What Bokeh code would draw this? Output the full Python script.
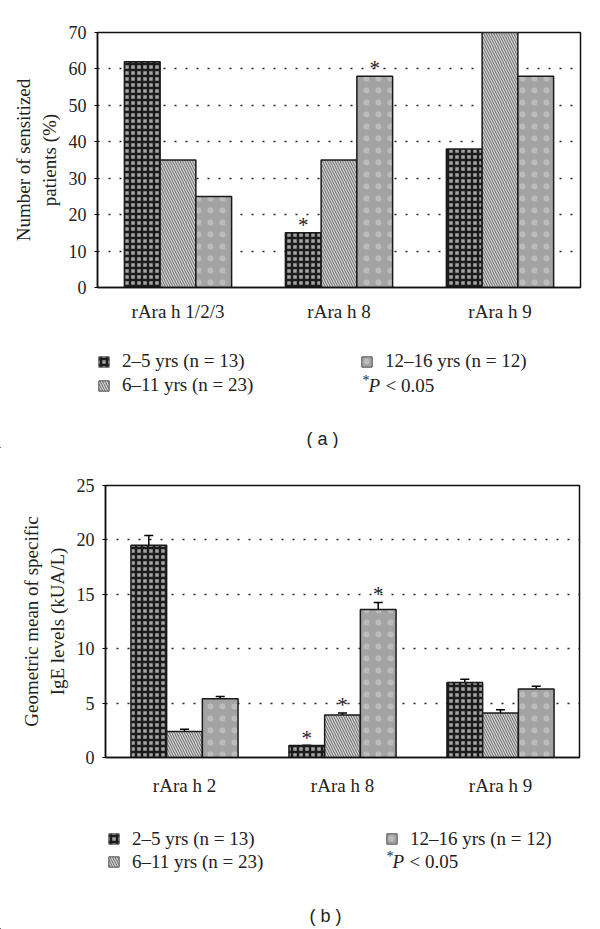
from bokeh.plotting import figure
from bokeh.models import (FactorRange, ColumnDataSource, Legend, LegendItem, Label,
                          Whisker, TeeHead, FixedTicker)
from bokeh.transform import dodge
from bokeh.layouts import column, row
from bokeh.embed import file_html
from bokeh.resources import INLINE
from bokeh.core.properties import value

# ---------------- data ----------------
groups = ["2–5 yrs (n = 13)", "6–11 yrs (n = 23)", "12–16 yrs (n = 12)"]

cats_a = ["rAra h 1/2/3", "rAra h 8", "rAra h 9"]
a_2_5 = [62, 15, 38]
a_6_11 = [35, 35, 74]
a_12_16 = [25, 58, 58]
a_sig_2_5 = ["", "*", ""]
a_sig_6_11 = ["", "", ""]
a_sig_12_16 = ["", "*", ""]
a_yticks = [0, 10, 20, 30, 40, 50, 60, 70]

cats_b = ["rAra h 2", "rAra h 8", "rAra h 9"]
b_2_5 = [19.5, 1.1, 6.9]
b_6_11 = [2.4, 3.9, 4.1]
b_12_16 = [5.4, 13.6, 6.3]
b_err_2_5 = [0.9, 0.0, 0.3]
b_err_6_11 = [0.2, 0.2, 0.3]
b_err_12_16 = [0.2, 0.65, 0.25]
b_sig_2_5 = ["", "*", ""]
b_sig_6_11 = ["", "*", ""]
b_sig_12_16 = ["", "*", ""]
b_yticks = [0, 5, 10, 15, 20, 25]

SERIF = "Liberation Serif"
SANS = "Liberation Sans"
TXT = "#222222"
PAGE_W = 600

styles = [
    dict(fill_color="#a4a4a4", hatch_pattern="cross", hatch_color="#1c1c1c",
         hatch_scale=6, hatch_weight=2.5),
    dict(fill_color="#d0d0d0", hatch_pattern="left_diagonal_line", hatch_color="#6a6a6a",
         hatch_scale=5, hatch_weight=1),
    dict(fill_color="#a3a3a3", hatch_pattern="dot", hatch_color="#bcbcbc",
         hatch_scale=12, hatch_weight=1),
]


def make_chart(cats, series, errs, sigs, yticks, ymax, ylabel,
               fw, fh, bl, bt, bb, bar_w, lab_standoff):
    p = figure(x_range=FactorRange(*cats, range_padding=0), y_range=(0, ymax),
               frame_width=fw, frame_height=fh, min_border_left=bl,
               min_border_right=PAGE_W - bl - fw, min_border_top=bt, min_border_bottom=bb,
               output_backend="svg", toolbar_location=None,
               background_fill_color="white", border_fill_color="white")
    p.outline_line_color = "#111111"
    p.outline_line_width = 1.5
    p.xgrid.grid_line_color = None
    p.ygrid.grid_line_color = "#222222"
    p.ygrid.grid_line_dash = "2 9"
    p.ygrid.grid_line_width = 1.5
    p.yaxis.ticker = FixedTicker(ticks=yticks)
    p.yaxis.axis_label = ylabel
    p.yaxis.axis_label_text_font = SERIF
    p.yaxis.axis_label_text_font_style = "normal"
    p.yaxis.axis_label_text_font_size = "19px"
    p.yaxis.axis_label_text_color = TXT
    p.yaxis.axis_label_standoff = 6
    p.yaxis.major_label_text_font = SERIF
    p.yaxis.major_label_text_font_size = "18px"
    p.yaxis.major_label_text_color = TXT
    p.yaxis.major_label_standoff = 8
    p.yaxis.major_tick_in = 0
    p.yaxis.major_tick_out = 3
    p.yaxis.minor_tick_line_color = None
    p.yaxis.axis_line_color = "#111111"
    p.yaxis.axis_line_width = 1.5
    p.xaxis.major_label_text_font = SERIF
    p.xaxis.major_label_text_font_size = "19px"
    p.xaxis.major_label_text_color = TXT
    p.xaxis.major_label_standoff = lab_standoff
    p.xaxis.major_tick_line_color = None
    p.xaxis.axis_line_color = "#111111"
    p.xaxis.axis_line_width = 1.5

    offsets = [-bar_w, 0.0, bar_w]
    for k in range(3):
        top = series[k]
        err = errs[k] if errs is not None else [0] * len(cats)
        src = ColumnDataSource(dict(
            x=cats, top=top,
            upper=[t + e for t, e in zip(top, err)],
            lower=[t - e for t, e in zip(top, err)],
            star=sigs[k]))
        xs = dodge("x", offsets[k], range=p.x_range)
        p.vbar(x=xs, top="top", width=bar_w, source=src,
               line_color="#1a1a1a", line_width=1.5, **styles[k])
        if errs is not None:
            w = Whisker(source=src, base=xs, upper="upper", lower="lower",
                        line_color="black", line_width=1.5,
                        upper_head=TeeHead(size=9, line_width=1.5, line_color="black"),
                        lower_head=TeeHead(size=9, line_width=1.5, line_color="black"))
            p.add_layout(w)
        p.text(x=xs, y="upper", text="star", source=src, text_align="center",
               text_baseline="middle", y_offset=-8, text_font=value(SERIF),
               text_font_size="21px", text_color=TXT)
    return p


def make_legend(height, leg_left, leg_right, star_pos, caption, cap_pos, pitch):
    q = figure(x_range=(0, PAGE_W), y_range=(0, height), width=PAGE_W, height=height,
               min_border=0, output_backend="svg", toolbar_location=None,
               x_axis_type=None, y_axis_type=None, background_fill_color="white",
               border_fill_color="white")
    q.outline_line_color = None
    q.grid.grid_line_color = None
    rs = []
    for k in range(3):
        # off-range placeholder renderers, only used for the legend swatches
        rs.append(q.vbar(x=[-50], top=[1], width=1, line_color="#555555",
                         line_width=1, **styles[k]))
    leg1 = Legend(items=[LegendItem(label=groups[0], renderers=[rs[0]]),
                         LegendItem(label=groups[1], renderers=[rs[1]])],
                  location=leg_left)
    leg2 = Legend(items=[LegendItem(label=groups[2], renderers=[rs[2]])],
                  location=leg_right)
    for lg in (leg1, leg2):
        lg.label_text_font = SERIF
        lg.label_text_font_size = "19px"
        lg.label_text_color = TXT
        lg.glyph_width = 13
        lg.glyph_height = 13
        lg.label_height = pitch
        lg.label_standoff = 12
        lg.spacing = 0
        lg.padding = 0
        lg.margin = 0
        lg.border_line_color = None
        lg.background_fill_alpha = 0
        q.add_layout(lg)
    sx, py = star_pos
    q.add_layout(Label(x=sx, y=py + 5, x_units="screen", y_units="screen", text="*",
                       text_font=SERIF, text_font_size="14px",
                       text_baseline="middle", text_color=TXT))
    q.add_layout(Label(x=sx + 6, y=py, x_units="screen", y_units="screen", text="P",
                       text_font=SERIF, text_font_style="italic", text_font_size="19px",
                       text_baseline="middle", text_color=TXT))
    q.add_layout(Label(x=sx + 23, y=py, x_units="screen", y_units="screen",
                       text="< 0.05", text_font=SERIF, text_font_size="19px",
                       text_baseline="middle", text_color=TXT))
    cx, cy = cap_pos
    q.add_layout(Label(x=cx, y=cy, x_units="screen", y_units="screen", text=caption,
                       text_font=SANS, text_font_size="18px", text_align="center",
                       text_baseline="middle", text_color=TXT))
    return q


p1 = make_chart(cats_a, [a_2_5, a_6_11, a_12_16], None,
                [a_sig_2_5, a_sig_6_11, a_sig_12_16], a_yticks, 70,
                "Number of sensitized\npatients (%)",
                fw=483, fh=255, bl=97, bt=32, bb=43, bar_w=0.222, lab_standoff=7)
l1 = make_legend(118, leg_left=(97, 51), leg_right=(360, 75), star_pos=(362, 63),
                 caption="( a )", cap_pos=(322, 10), pitch=24)

p2 = make_chart(cats_b, [b_2_5, b_6_11, b_12_16], [b_err_2_5, b_err_6_11, b_err_12_16],
                [b_sig_2_5, b_sig_6_11, b_sig_12_16], b_yticks, 25,
                "Geometric mean of specific\nIgE levels (kUA/L)",
                fw=474, fh=272, bl=105, bt=37, bb=43, bar_w=0.226, lab_standoff=11)
l2 = make_legend(129, leg_left=(107, 56), leg_right=(385, 79), star_pos=(386, 68),
                 caption="( b )", cap_pos=(325, 14), pitch=23)

layout = column(row(p1), row(l1), row(p2), row(l2), spacing=0)
open("out.html", "w").write(file_html(layout, INLINE))
